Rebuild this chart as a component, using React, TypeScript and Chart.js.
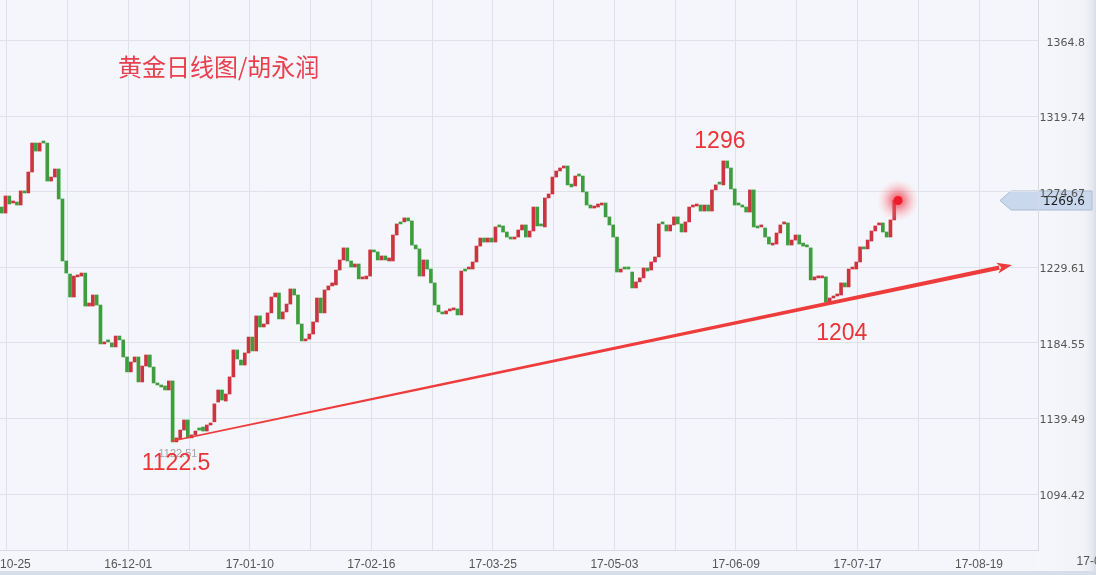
import React, { useEffect, useRef } from 'react';
import { Chart, registerables } from 'chart.js';

Chart.register(...registerables);

// Daily candles (open / close), oldest first
const OPENS = [
  1265.7, 1262.1, 1272.3, 1268.1, 1268.7, 1266.9, 1275.3, 1274.1, 1286.6, 1303.9,
  1299.1, 1305.1, 1303.9, 1281.2, 1283.6, 1288.4, 1270.5, 1233.5, 1225.7, 1212.0,
  1224.0, 1224.5, 1226.3, 1206.6, 1206.6, 1213.2, 1207.2, 1184.0, 1186.4, 1184.6,
  1182.2, 1188.7, 1186.4, 1176.2, 1167.3, 1173.2, 1176.2, 1161.3, 1170.8, 1177.4,
  1170.2, 1160.7, 1159.5, 1158.9, 1156.5, 1161.9, 1125.5, 1127.3, 1132.6, 1138.6,
  1127.9, 1129.7, 1133.8, 1134.4, 1132.0, 1135.6, 1137.5, 1149.3, 1156.5, 1149.9,
  1154.1, 1164.3, 1180.4, 1174.4, 1171.4, 1178.6, 1188.1, 1179.8, 1200.7, 1194.1,
  1195.9, 1202.5, 1212.0, 1214.4, 1198.9, 1203.1, 1207.8, 1216.8, 1213.2, 1195.9,
  1185.8, 1186.9, 1189.9, 1197.1, 1211.4, 1202.5, 1216.2, 1218.6, 1219.2, 1228.1,
  1234.1, 1241.3, 1233.5, 1229.9, 1231.7, 1222.8, 1222.8, 1224.5, 1240.1, 1238.9,
  1234.1, 1236.5, 1233.5, 1233.5, 1249.0, 1256.8, 1256.8, 1259.2, 1257.4, 1243.0,
  1240.7, 1224.5, 1234.1, 1228.7, 1220.4, 1207.2, 1203.1, 1201.9, 1203.7, 1204.3,
  1204.9, 1201.3, 1228.7, 1228.7, 1228.7, 1232.9, 1242.4, 1247.2, 1244.8, 1247.2,
  1244.8, 1255.0, 1254.4, 1250.8, 1247.8, 1246.6, 1247.8, 1252.0, 1255.0, 1247.8,
  1251.4, 1265.7, 1255.6, 1253.8, 1271.1, 1273.5, 1283.6, 1287.2, 1289.0, 1290.2,
  1279.4, 1278.3, 1285.4, 1284.2, 1274.7, 1266.9, 1265.1, 1265.7, 1266.9, 1268.1,
  1259.8, 1255.0, 1247.8, 1226.9, 1229.9, 1229.9, 1226.9, 1217.4, 1221.0, 1223.4,
  1229.3, 1228.1, 1232.9, 1235.9, 1256.8, 1255.0, 1251.4, 1255.0, 1259.8, 1255.6,
  1250.8, 1256.8, 1265.7, 1266.3, 1266.9, 1263.3, 1266.9, 1263.3, 1275.9, 1280.0,
  1278.9, 1293.2, 1289.0, 1276.5, 1268.1, 1266.9, 1265.7, 1262.7, 1275.9, 1254.4,
  1253.8, 1253.2, 1247.8, 1243.0, 1243.6, 1250.2, 1255.6, 1256.2, 1243.0, 1246.0,
  1249.0, 1244.2, 1242.4, 1241.3, 1222.2, 1223.4, 1223.4, 1224.0, 1209.0, 1211.4,
  1212.6, 1213.2, 1220.4, 1218.0, 1228.7, 1228.7, 1232.9, 1241.9, 1240.7, 1245.4,
  1251.4, 1255.0, 1256.2, 1250.8, 1247.8, 1258.0,
];

const CLOSES = [
  1262.1, 1272.3, 1267.5, 1268.7, 1266.9, 1275.3, 1274.1, 1286.6, 1303.9, 1299.1,
  1303.9, 1303.9, 1281.2, 1283.6, 1288.4, 1270.5, 1233.5, 1226.3, 1212.0, 1224.5,
  1225.1, 1226.3, 1206.6, 1208.4, 1213.2, 1207.2, 1184.0, 1185.2, 1185.2, 1182.2,
  1188.7, 1186.4, 1176.2, 1167.3, 1173.2, 1176.2, 1161.3, 1170.8, 1177.4, 1170.2,
  1160.7, 1159.5, 1158.3, 1156.5, 1161.9, 1125.5, 1127.9, 1132.6, 1138.6, 1127.9,
  1129.7, 1132.0, 1132.6, 1132.0, 1135.6, 1136.8, 1148.2, 1156.5, 1150.5, 1154.1,
  1164.3, 1180.4, 1175.0, 1171.4, 1178.6, 1188.1, 1179.8, 1200.7, 1194.1, 1195.9,
  1202.5, 1212.0, 1214.4, 1198.9, 1203.1, 1207.8, 1216.8, 1213.2, 1195.9, 1185.8,
  1186.9, 1189.9, 1197.1, 1211.4, 1202.5, 1216.2, 1218.6, 1220.4, 1228.1, 1234.1,
  1241.3, 1233.5, 1229.9, 1231.7, 1222.8, 1223.4, 1224.5, 1240.1, 1238.9, 1234.1,
  1236.5, 1234.1, 1235.3, 1249.0, 1255.6, 1255.6, 1259.2, 1257.4, 1243.0, 1240.7,
  1224.5, 1234.1, 1228.7, 1220.4, 1207.2, 1203.1, 1201.9, 1203.7, 1204.9, 1205.4,
  1201.3, 1227.5, 1227.5, 1229.9, 1232.9, 1242.4, 1247.2, 1244.8, 1247.2, 1244.8,
  1253.8, 1253.8, 1250.8, 1247.8, 1246.6, 1247.8, 1252.0, 1255.0, 1247.8, 1251.4,
  1265.7, 1254.4, 1254.4, 1271.1, 1273.5, 1283.6, 1287.2, 1289.0, 1290.2, 1278.9,
  1277.7, 1284.2, 1284.2, 1274.7, 1266.9, 1265.1, 1266.3, 1267.5, 1268.1, 1259.8,
  1255.0, 1247.8, 1226.9, 1228.7, 1228.7, 1228.7, 1217.4, 1221.0, 1223.4, 1229.3,
  1227.5, 1232.9, 1235.9, 1255.6, 1255.6, 1251.4, 1255.0, 1259.8, 1255.6, 1250.8,
  1256.8, 1265.7, 1266.9, 1267.5, 1263.3, 1266.9, 1263.3, 1275.9, 1278.9, 1279.4,
  1293.2, 1289.0, 1276.5, 1266.9, 1266.9, 1265.7, 1262.7, 1275.9, 1253.8, 1253.2,
  1255.0, 1247.8, 1243.6, 1244.2, 1250.2, 1255.0, 1256.2, 1243.0, 1246.0, 1249.0,
  1243.6, 1242.4, 1241.9, 1222.2, 1224.0, 1224.0, 1224.0, 1209.0, 1211.4, 1212.6,
  1213.8, 1220.4, 1218.0, 1228.7, 1229.9, 1232.9, 1241.9, 1240.7, 1246.0, 1251.4,
  1254.4, 1256.2, 1250.8, 1247.8, 1258.0, 1269.6,
];

const X_LABELS = ['16-10-25', '16-12-01', '17-01-10', '17-02-16', '17-03-25', '17-05-03', '17-06-09', '17-07-17', '17-08-19', '17-09-25'];
const X_LABEL_FIRST = 1.32; // candle index of first date label
const X_LABEL_EVERY = 32; // candles between date labels
const X_MIN = -0.448;
const X_MAX = 272.85;

const Y_TICKS = [1094.42, 1139.49, 1184.55, 1229.61, 1274.67, 1319.74, 1364.8];
const Y_MIN = 1061.0;
const Y_MAX = 1389.26;

const LAST_PRICE = 1269.6;
const TITLE = { text: '黄金日线图/胡永润', k: 30.6, v: 1349.3 };
const NOTES = [
  { text: '1296', k: 189.1, v: 1304.5 },
  { text: '1204', k: 221.2, v: 1189.9 },
  { text: '1122.5', k: 45.9, v: 1112.3 },
];
const LOW_MARK = { text: '1122.51', k: 46.4, v: 1118.3 };
const TREND_START = { k: 44.8, v: 1126.1 };
const TREND_END = { k: 266.0, v: 1231.1 };
const DOT = { k: 236.0, v: 1269.6 };

const UP = '#cc3440';
const DOWN = '#3e9e3e';
const GRID = '#e0e2ea';
const RED_TEXT = '#ec3338';

export default function App() {
  const ref = useRef<HTMLCanvasElement>(null);

  useEffect(() => {
    const canvas = ref.current;
    if (!canvas) return;
    const idx = OPENS.map((_, i) => i);
    const data = idx.map((i) => ({ x: i, y: [OPENS[i], CLOSES[i]] }));
    const colors = idx.map((i) => (CLOSES[i] >= OPENS[i] ? UP : DOWN));

    const decor = {
      id: 'decor',
      beforeDraw(chart: any) {
        const { ctx, width, height, chartArea: a } = chart;
        ctx.save();
        ctx.fillStyle = '#f5f6fb';
        ctx.fillRect(0, 0, width, height);
        const g = ctx.createLinearGradient(a.right, 0, width, 0);
        g.addColorStop(0, '#f6f7fb');
        g.addColorStop(0.8, '#f2f3f8');
        g.addColorStop(0.93, '#e8eaf1');
        g.addColorStop(1, '#d9dce6');
        ctx.fillStyle = g;
        ctx.fillRect(a.right, 0, width - a.right, height);
        ctx.fillStyle = '#d6deea';
        ctx.fillRect(0, height - 4, width, 4);
        // price tag
        const y = chart.scales.y.getPixelForValue(LAST_PRICE);
        const x0 = a.right - 38;
        ctx.beginPath();
        ctx.moveTo(x0, y);
        ctx.lineTo(x0 + 11, y - 9.5);
        ctx.lineTo(width - 4, y - 9.5);
        ctx.lineTo(width - 4, y + 9.5);
        ctx.lineTo(x0 + 11, y + 9.5);
        ctx.closePath();
        ctx.fillStyle = '#c9d8ec';
        ctx.fill();
        ctx.strokeStyle = '#a9bbd4';
        ctx.lineWidth = 1;
        ctx.stroke();
        ctx.restore();
      },
      afterDatasetsDraw(chart: any) {
        const { ctx } = chart;
        const xs = chart.scales.x;
        const ys = chart.scales.y;
        ctx.save();
        // trend arrow
        const x0 = xs.getPixelForValue(TREND_START.k);
        const y0 = ys.getPixelForValue(TREND_START.v);
        const x1 = xs.getPixelForValue(TREND_END.k);
        const y1 = ys.getPixelForValue(TREND_END.v);
        const dx = x1 - x0;
        const dy = y1 - y0;
        const len = Math.hypot(dx, dy);
        const ux = dx / len;
        const uy = dy / len;
        const nx = -uy;
        const ny = ux;
        const headLen = 13;
        const headW = 5.5;
        const bx = x1 - ux * headLen;
        const by = y1 - uy * headLen;
        const w0 = 0.75;
        const w1 = 2.1;
        ctx.fillStyle = '#ee3b3b';
        ctx.beginPath();
        ctx.moveTo(x0 + nx * w0, y0 + ny * w0);
        ctx.lineTo(bx + nx * w1, by + ny * w1);
        ctx.lineTo(bx - nx * w1, by - ny * w1);
        ctx.lineTo(x0 - nx * w0, y0 - ny * w0);
        ctx.closePath();
        ctx.fill();
        ctx.beginPath();
        ctx.moveTo(x1, y1);
        ctx.lineTo(bx + nx * headW - ux * 2, by + ny * headW - uy * 2);
        ctx.lineTo(bx + ux * 2, by + uy * 2);
        ctx.lineTo(bx - nx * headW - ux * 2, by - ny * headW - uy * 2);
        ctx.closePath();
        ctx.fill();

        // glowing last-price dot
        const dx0 = xs.getPixelForValue(DOT.k);
        const dy0 = ys.getPixelForValue(DOT.v);
        const rg = ctx.createRadialGradient(dx0, dy0, 0, dx0, dy0, 21);
        rg.addColorStop(0, 'rgba(240,40,55,0.85)');
        rg.addColorStop(0.35, 'rgba(242,70,85,0.55)');
        rg.addColorStop(0.7, 'rgba(248,130,140,0.25)');
        rg.addColorStop(1, 'rgba(255,180,185,0)');
        ctx.fillStyle = rg;
        ctx.beginPath();
        ctx.arc(dx0, dy0, 21, 0, Math.PI * 2);
        ctx.fill();
        ctx.fillStyle = '#ee1c2b';
        ctx.beginPath();
        ctx.arc(dx0, dy0, 4.5, 0, Math.PI * 2);
        ctx.fill();

        // low marker small label
        ctx.fillStyle = 'rgba(150,150,150,0.85)';
        ctx.font = '11px "Liberation Sans", Arial, sans-serif';
        ctx.textAlign = 'center';
        ctx.textBaseline = 'middle';
        ctx.fillText(LOW_MARK.text, xs.getPixelForValue(LOW_MARK.k), ys.getPixelForValue(LOW_MARK.v));

        // red annotations
        ctx.fillStyle = RED_TEXT;
        ctx.font = '23px "Liberation Sans", Arial, sans-serif';
        for (const n of NOTES) {
          ctx.fillText(n.text, xs.getPixelForValue(n.k), ys.getPixelForValue(n.v));
        }
        ctx.fillStyle = '#e8404f';
        ctx.font = '24px "Noto Sans CJK SC", sans-serif';
        ctx.textAlign = 'left';
        ctx.fillText(TITLE.text, xs.getPixelForValue(TITLE.k), ys.getPixelForValue(TITLE.v));
        ctx.restore();
      },
      afterDraw(chart: any) {
        const { ctx, chartArea: a } = chart;
        const xs = chart.scales.x;
        const ys = chart.scales.y;
        ctx.save();
        // last price text on tag
        ctx.fillStyle = '#1c1c1c';
        ctx.font = '12px "DejaVu Sans", sans-serif';
        ctx.textAlign = 'right';
        ctx.textBaseline = 'middle';
        ctx.fillText(String(LAST_PRICE), a.right + 47, ys.getPixelForValue(LAST_PRICE) + 1);
        // date label beyond the plot edge
        const j = X_LABELS.length - 1;
        ctx.fillStyle = '#555';
        ctx.font = '12px "Liberation Sans", Arial, sans-serif';
        ctx.textAlign = 'center';
        ctx.textBaseline = 'top';
        ctx.fillText(X_LABELS[j], xs.getPixelForValue(X_LABEL_FIRST + X_LABEL_EVERY * j), a.bottom + 6);
        ctx.restore();
      },
    };

    const chart = new Chart(canvas, {
      type: 'bar',
      data: {
        datasets: [
          {
            data: data as any,
            backgroundColor: colors,
            borderWidth: 0,
            barThickness: 3,
            minBarLength: 2,
          } as any,
        ],
      },
      options: {
        animation: false,
        responsive: false,
        devicePixelRatio: 1,
        layout: { padding: { left: 0, right: 11, top: 0, bottom: 0 } },
        plugins: {
          legend: { display: false },
          tooltip: { enabled: false },
          title: { display: false },
        },
        scales: {
          x: {
            type: 'linear',
            min: X_MIN,
            max: X_MAX,
            offset: false,
            grid: { color: GRID, drawTicks: false, offset: false },
            border: { color: '#d8dbe4' },
            afterBuildTicks: (s: any) => {
              const t = [];
              for (let v = X_LABEL_FIRST; v <= X_MAX; v += X_LABEL_EVERY / 2) t.push({ value: v });
              s.ticks = t;
            },
            ticks: {
              autoSkip: false,
              maxRotation: 0,
              minRotation: 0,
              padding: 7,
              color: '#555',
              font: { family: '"Liberation Sans", Arial, sans-serif', size: 12 },
              callback: (_v: any, i: number) => (i % 2 === 0 ? X_LABELS[i / 2] : ''),
            },
            afterFit: (s: any) => {
              s.height = 25;
              s.paddingLeft = 0;
              s.paddingRight = 0;
            },
          } as any,
          y: {
            type: 'linear',
            position: 'right',
            min: Y_MIN,
            max: Y_MAX,
            grid: { color: GRID, drawTicks: false },
            border: { color: '#d8dbe4' },
            afterBuildTicks: (s: any) => {
              s.ticks = Y_TICKS.map((v) => ({ value: v }));
            },
            ticks: {
              crossAlign: 'far',
              labelOffset: 2,
              color: '#555',
              font: { family: '"DejaVu Sans", sans-serif', size: 11 },
              callback: (v: any) => String(v),
            },
            afterFit: (s: any) => {
              s.width = 47;
              s.paddingTop = 0;
              s.paddingBottom = 0;
            },
          } as any,
        },
      },
      plugins: [decor],
    });
    return () => chart.destroy();
  }, []);

  return (
    <div style={{ position: 'fixed', left: 0, top: 0, width: 1096, height: 575 }}>
      <canvas ref={ref} width={1096} height={575} style={{ display: 'block', width: 1096, height: 575 }} />
    </div>
  );
}
